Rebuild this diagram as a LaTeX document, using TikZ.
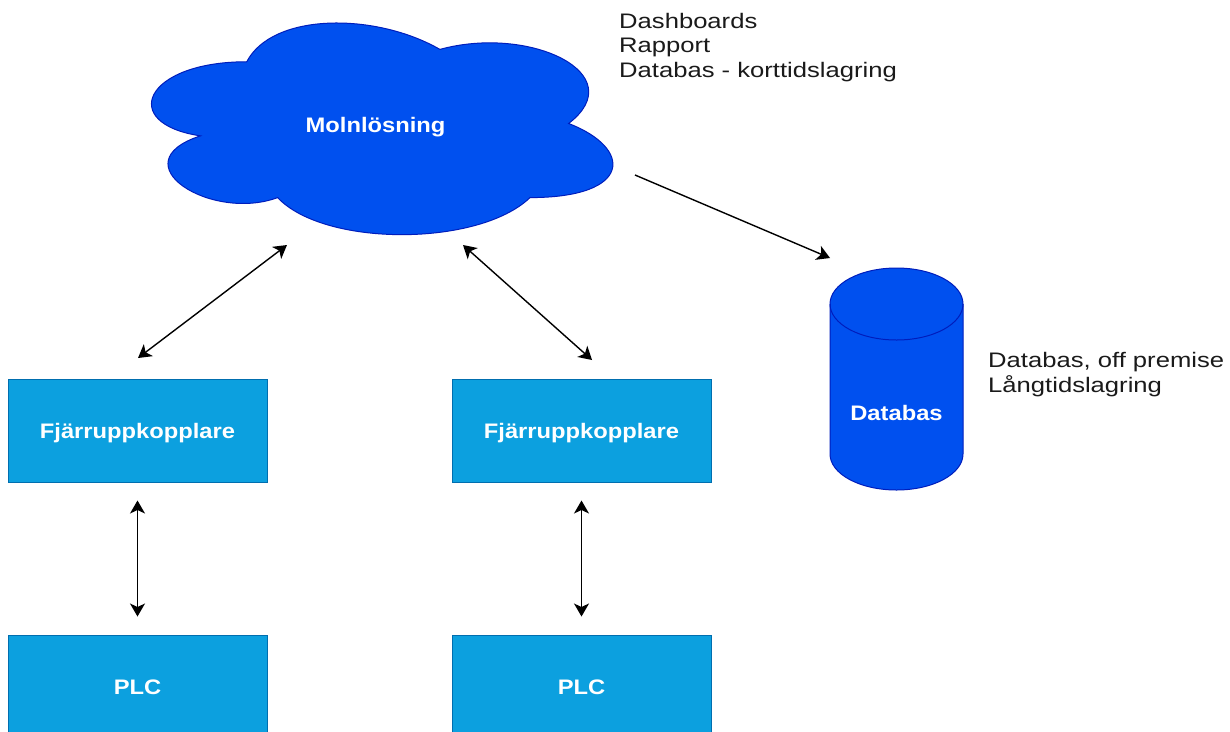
\documentclass[tikz,border=0pt]{standalone}
\usepackage{fontspec}
\setmainfont{Liberation Sans}
\usepackage{graphicx}
\usetikzlibrary{arrows.meta,calc}
\definecolor{cloudblue}{HTML}{0050EF}
\definecolor{cloudedge}{HTML}{001DBC}
\definecolor{boxblue}{HTML}{0CA0DF}
\definecolor{boxedge}{HTML}{006EAF}
\definecolor{txt}{HTML}{1A1A1A}
\newcommand{\wtxt}[1]{\scalebox{1.13}[1]{\bfseries #1}}
\newcommand{\ptxt}[1]{\scalebox{1.22}[1]{#1}}
\begin{document}
\begin{tikzpicture}[x=1pt,y=-1pt,
  box/.style={draw=boxedge, fill=boxblue, line width=1pt, minimum width=259pt,
    minimum height=103pt, inner sep=0pt, text=white, text height=15pt, text depth=0pt,
    font=\fontsize{21}{25}\selectfont},
  wlabel/.style={text=white, inner sep=0pt, text height=15pt, text depth=0pt,
    font=\fontsize{21}{25}\selectfont},
  link/.style={line width=1.4pt, >={Stealth[length=13pt,width=15pt,inset=3.5pt]}},
  note/.style={font=\fontsize{21}{24.5}\selectfont, text=txt, align=left, inner sep=0pt}]
\clip (0,0) rectangle (1230,731);
\fill[white] (0,0) rectangle (1230,731);

% cloud
\draw[fill=cloudblue, draw=cloudedge, line width=1pt]
  (246.75,61.75) .. controls (143.75,61.75) and (118,123.5) .. (200.4,135.85)
  .. controls (118,163.02) and (210.7,222.3) .. (277.65,197.6)
  .. controls (324,247) and (478.5,247) .. (530,197.6)
  .. controls (633,197.6) and (633,148.2) .. (568.6,123.5)
  .. controls (633,74.1) and (530,24.7) .. (439.9,49.4)
  .. controls (375.5,12.35) and (272.5,12.35) .. (246.75,61.75) -- cycle;
\node[wlabel] (moln) at (375.5,125) {\wtxt{Molnlösning}};

% database cylinder
\draw[fill=cloudblue, draw=cloudedge, line width=1pt]
  (830,304) -- (830,454) arc (180:360:66.5pt and 36pt) -- (963,304)
  arc (0:180:66.5pt and 36pt) -- cycle;
\draw[draw=cloudedge, line width=1pt] (830,304) arc (180:360:66.5pt and 36pt);
\node[wlabel] (db) at (896.5,413) {\wtxt{Databas}};

% boxes
\node[box] (f1) at (137.5,430.5) {\wtxt{Fjärruppkopplare}};
\node[box] (f2) at (581.5,430.5) {\wtxt{Fjärruppkopplare}};
\node[box] (p1) at (137.5,686.5) {\wtxt{PLC}};
\node[box] (p2) at (581.5,686.5) {\wtxt{PLC}};

% notes (base anchor = baseline of last line)
\node[note, anchor=base west] (n1) at (619,77)
  {\ptxt{Dashboards}\\ \ptxt{Rapport}\\ \ptxt{Databas - korttidslagring}};
\node[note, anchor=base west] (n2) at (988,392)
  {\ptxt{Databas, off premise}\\ \ptxt{Långtidslagring}};

% connector end points
\coordinate (ca) at (287,245);
\coordinate (cb) at (463,245);
\coordinate (fa) at (138,358);
\coordinate (fb) at (592,360);
\coordinate (cc) at (635,175);
\coordinate (dbt) at (830,258);

\draw[link,<->] (fa) -- (ca);
\draw[link,<->] (cb) -- (fb);
\draw[link,->] (cc) -- (dbt);
\draw[link,<->, shorten <=18pt, shorten >=18pt] (f1.south) -- (p1.north);
\draw[link,<->, shorten <=18pt, shorten >=18pt] (f2.south) -- (p2.north);
\end{tikzpicture}
\end{document}
